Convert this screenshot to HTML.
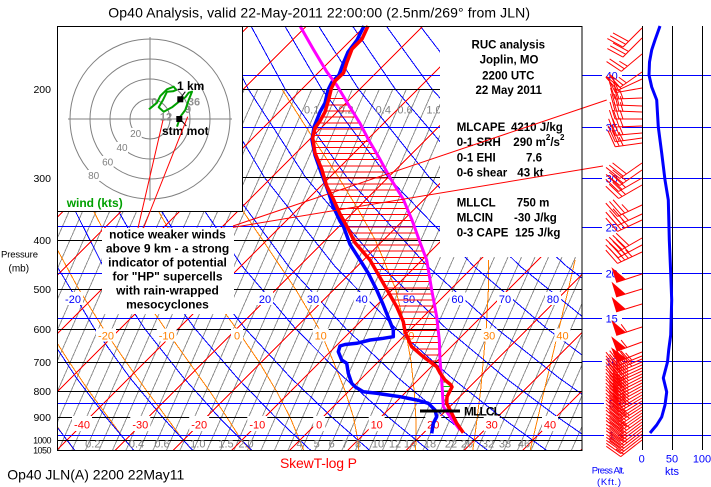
<!DOCTYPE html>
<html><head><meta charset="utf-8">
<style>
html,body{margin:0;padding:0;background:#fff;width:711px;height:487px;overflow:hidden}
svg{display:block}
text{font-family:"Liberation Sans",Arial,sans-serif}
.b{font-weight:bold}
</style></head><body>
<svg width="711" height="487" viewBox="0 0 711 487" xmlns="http://www.w3.org/2000/svg">
<defs>
 <clipPath id="pc"><rect x="57" y="26" width="525" height="424"/></clipPath>
 <g id="w15" stroke="#f00" fill="none"><path d="M0 0H-27M-27 0l-5-17M-23 0l-3-9"/></g>
 <g id="w20" stroke="#f00" fill="none"><path d="M0 0H-27M-27 0l-5-17M-23 0l-5-17"/></g>
 <g id="w25" stroke="#f00" fill="none"><path d="M0 0H-27M-27 0l-5-17M-23 0l-5-17M-19 0l-3-9"/></g>
 <g id="w30" stroke="#f00" fill="none"><path d="M0 0H-27M-27 0l-5-17M-23 0l-5-17M-19 0l-5-17"/></g>
 <g id="w35" stroke="#f00" fill="none"><path d="M0 0H-27M-27 0l-5-17M-23 0l-5-17M-19 0l-5-17M-15 0l-3-9"/></g>
 <g id="w40" stroke="#f00" fill="none"><path d="M0 0H-27M-27 0l-5-17M-23 0l-5-17M-19 0l-5-17M-15 0l-5-17"/></g>
 <g id="w45" stroke="#f00" fill="none"><path d="M0 0H-27M-27 0l-5-17M-23 0l-5-17M-19 0l-5-17M-15 0l-5-17M-11 0l-3-9"/></g>
 <g id="w50"><path d="M0 0H-27" stroke="#f00" fill="none"/><polygon points="-27,0 -17,0 -27,-16" fill="#f00"/></g>
 <g id="w55"><path d="M0 0H-27M-16 0l-3-9" stroke="#f00" fill="none"/><polygon points="-27,0 -17,0 -27,-16" fill="#f00"/></g>
</defs>
<rect width="711" height="487" fill="#fff"/>

<g clip-path="url(#pc)" shape-rendering="crispEdges">
 <path fill="none" stroke="#909090" stroke-width="1" d="M-89.9 450l158.4-360m-144.9 360l158.4-360m-144.9 360l158.4-360m-144.9 360l158.4-360m-144.9 360l158.4-360m-144.9 360l158.4-360m-144.9 360l158.4-360m-144.9 360l158.4-360m-144.9 360l158.4-360m-144.9 360l158.4-360m-144.9 360l158.4-360m-144.9 360l158.4-360m-144.9 360l158.4-360m-144.9 360l158.4-360m-144.9 360l158.4-360m-144.9 360l158.4-360m-144.9 360l158.4-360m-144.9 360l158.4-360m-144.9 360l158.4-360m-144.9 360l158.4-360m-144.9 360l158.4-360m-144.9 360l158.4-360m-144.9 360l158.4-360m-144.9 360l158.4-360m-144.9 360l158.4-360m-144.9 360l158.4-360m-144.9 360l158.4-360m-144.9 360l158.4-360m-144.9 360l158.4-360m-144.9 360l158.4-360m-144.9 360l158.4-360m-144.9 360l158.4-360m-144.9 360l158.4-360m-144.9 360l158.4-360m-144.9 360l158.4-360m-144.9 360l158.4-360m-144.9 360l158.4-360m-144.9 360l158.4-360m-144.9 360l158.4-360m-144.9 360l158.4-360m-144.9 360l158.4-360m-144.9 360l158.4-360m-144.9 360l158.4-360m-144.9 360l158.4-360m-144.9 360l158.4-360m-144.9 360l158.4-360m-144.9 360l158.4-360m-144.9 360l158.4-360m-144.9 360l158.4-360m-144.9 360l158.4-360"/>
 <g fill="none" stroke="#ff8000" stroke-width="1">
  <polyline points="530,451 532.5,440.3 538,417.3 543.9,391.7 550.9,362.5 558.9,328.9 568.4,289.1 575.1,259.8"/>
  <polyline points="472.6,451 474.3,440.3 477.2,417.3 480.5,391.7 483.1,362.5 486.2,328.9 488.4,289.1 488.7,259.8"/>
  <polyline points="415.3,451 416.1,440.3 415.8,417.3 414.2,391.7 411.2,362.5 405.3,328.9 395.6,289.1 383.6,259.8 375.5,240.5 359.3,211.4 338.8,177.7 313,138 282,89.3"/>
  <polyline points="358.9,451 357.9,440.3 353.5,417.3 345.4,391.7 333.8,362.5 319.1,328.9 295.5,289.1 262.9,240.5 243.2,211.4 222.1,177.7 199,138 174.4,89.3"/>
  <polyline points="304.1,451 299.7,440.3 290.1,417.3 276.8,391.7 259.4,362.5 236.5,328.9 207.6,289.1 175.3,240.5 139.2,177.7 100.1,89.3"/>
  <polyline points="251.2,451 241.5,440.3 226.9,417.3 210.1,391.7 189.2,362.5 165.3,328.9 138.1,289.1 108.6,240.5 76.7,177.7 44.5,89.3"/>
  <polyline points="193.3,451 183.3,440.3 166.4,417.3 147.3,391.7 126.4,362.5 103.5,328.9 78.7,289.1 52.4,240.5 25.2,177.7"/>
  <polyline points="134.5,451 125.1,440.3 108.2,417.3 89.4,391.7 69.5,362.5 48.2,328.9 25.9,289.1"/>
  <polyline points="75.1,451 66.9,440.3 50.6,417.3 33.2,391.7"/>
 </g>
 <g fill="none" stroke="#0000ff" stroke-width="1">
  <polyline points="75.3,451 49.6,417.3 22.6,377.6 -6,328.9"/>
  <polyline points="134.3,451 106.1,417.3 76.2,377.6 44.3,328.9 10.5,266.2 -24.2,177.7"/>
  <polyline points="193.3,451 162.6,417.3 129.8,377.6 94.6,328.9 56.9,266.2 17,177.7 -8.8,89.3"/>
  <polyline points="252.3,451 219,417.3 183.4,377.6 144.9,328.9 103.2,266.2 58.3,177.7 28,89.3 14.4,26.6"/>
  <polyline points="311.4,451 275.5,417.3 237,377.6 195.2,328.9 149.5,266.2 99.6,177.7 64.7,89.3 48.2,26.6"/>
  <polyline points="370.4,451 332,417.3 290.6,377.6 245.5,328.9 195.9,266.2 140.8,177.7 101.5,89.3 82.1,26.6"/>
  <polyline points="429.4,451 388.5,417.3 344.2,377.6 295.8,328.9 242.2,266.2 182.1,177.7 138.2,89.3 115.9,26.6"/>
  <polyline points="488.4,451 444.9,417.3 397.8,377.6 346.1,328.9 288.5,266.2 223.3,177.7 175,89.3 149.8,26.6"/>
  <polyline points="547.4,451 501.4,417.3 451.4,377.6 396.4,328.9 334.8,266.2 264.6,177.7 211.7,89.3 183.6,26.6"/>
  <polyline points="606.4,451 557.9,417.3 505,377.6 446.7,328.9 381.2,266.2 305.9,177.7 248.4,89.3 217.5,26.6"/>
  <polyline points="665.5,451 614.4,417.3 558.6,377.6 497,328.9 427.5,266.2 347.1,177.7 285.2,89.3 251.3,26.6"/>
  <polyline points="670.8,417.3 612.2,377.6 547.3,328.9 473.8,266.2 388.4,177.7 321.9,89.3 285.2,26.6"/>
  <polyline points="665.9,377.6 597.6,328.9 520.1,266.2 429.6,177.7 358.7,89.3 319,26.6"/>
  <polyline points="647.9,328.9 566.5,266.2 470.9,177.7 395.4,89.3 352.9,26.6"/>
  <polyline points="698.2,328.9 612.8,266.2 512.2,177.7 432.2,89.3 386.7,26.6"/>
  <polyline points="659.1,266.2 553.4,177.7 468.9,89.3 420.6,26.6"/>
  <polyline points="705.4,266.2 594.7,177.7 505.7,89.3 454.4,26.6"/>
  <polyline points="751.8,266.2 635.9,177.7 542.4,89.3 488.2,26.6"/>
  <polyline points="677.2,177.7 579.2,89.3 522.1,26.6"/>
  <polyline points="718.4,177.7 615.9,89.3 555.9,26.6"/>
 </g>
 <path fill="none" stroke="#ff0000" stroke-width="1" d="M-351.2 451l424.4-424.4m-366.2 424.4l424.4-424.4m-366.2 424.4l424.4-424.4m-366.2 424.4l424.4-424.4m-366.2 424.4l424.4-424.4m-366.2 424.4l424.4-424.4m-366.2 424.4l424.4-424.4m-366.2 424.4l424.4-424.4m-366.2 424.4l424.4-424.4m-366.2 424.4l424.4-424.4m-366.2 424.4l424.4-424.4m-366.2 424.4l424.4-424.4m-366.2 424.4l424.4-424.4m-366.2 424.4l424.4-424.4m-366.2 424.4l424.4-424.4m-366.2 424.4l424.4-424.4m-366.2 424.4l424.4-424.4"/>
 <path fill="none" stroke="#0000ff" stroke-width="1" d="M57 75.5H582M57 127.5H582M57 226.5H582M57 273.5H582M57 318.5H582M57 403.5H582M57 435.5H582"/>
 <path fill="none" stroke="#000" stroke-width="1" d="M57 89.5H582M57 177.5H582M57 240.5H582M57 289.5H582M57 329.5H582M57 362.5H582M57 391.5H582M57 417.5H582M57 440.5H582"/>
</g>

<g font-size="11">
 <g fill="#fff">
  <rect x="72" y="416" width="20" height="15"/><rect x="130.3" y="416" width="20" height="15"/><rect x="189.2" y="416" width="20" height="15"/><rect x="247.3" y="416" width="20" height="15"/><rect x="313.2" y="416" width="12" height="15"/><rect x="368.7" y="416" width="16" height="15"/><rect x="425.3" y="416" width="16" height="15"/><rect x="483.7" y="416" width="16" height="15"/><rect x="542" y="416" width="16" height="15"/>
  <rect x="63" y="292" width="20" height="13"/><rect x="257" y="292" width="16" height="13"/><rect x="305" y="292" width="16" height="13"/><rect x="353.7" y="292" width="16" height="13"/><rect x="401" y="292" width="16" height="13"/><rect x="449.5" y="292" width="16" height="13"/><rect x="497" y="292" width="16" height="13"/><rect x="545" y="292" width="16" height="13"/>
  <rect x="96" y="328.5" width="20" height="13"/><rect x="156.7" y="328.5" width="20" height="13"/><rect x="231" y="328.5" width="12" height="13"/><rect x="312.7" y="328.5" width="16" height="13"/><rect x="481.2" y="328.5" width="16" height="13"/><rect x="554.5" y="328.5" width="16" height="13"/>
 </g>
 <g fill="#f00" text-anchor="middle">
  <text x="82" y="428.5">-40</text><text x="140.3" y="428.5">-30</text><text x="199.2" y="428.5">-20</text><text x="257.3" y="428.5">-10</text><text x="319.2" y="428.5">0</text><text x="376.7" y="428.5">10</text><text x="433.3" y="428.5">20</text><text x="491.7" y="428.5">30</text><text x="550" y="428.5">40</text>
 </g>
 <g fill="#00f" text-anchor="middle">
  <text x="73" y="303">-20</text><text x="265" y="303">20</text><text x="313" y="303">30</text><text x="361.7" y="303">40</text><text x="409" y="303">50</text><text x="457.5" y="303">60</text><text x="505" y="303">70</text><text x="553" y="303">80</text>
 </g>
 <g fill="#ff8000" text-anchor="middle">
  <text x="106" y="339.5">-20</text><text x="166.7" y="339.5">-10</text><text x="237" y="339.5">0</text><text x="320.7" y="339.5">10</text><text x="408.3" y="339.5">20</text><text x="489.2" y="339.5">30</text><text x="562.5" y="339.5">40</text>
 </g>
 <g fill="#808080" text-anchor="middle">
  <text x="92.8" y="447.5">0.2</text><text x="136.5" y="447.5">0.4</text><text x="162" y="447.5">0.6</text><text x="197.8" y="447.5">1.0</text><text x="226" y="447.5">1.5</text><text x="246" y="447.5">2.0</text><text x="299.5" y="447.5">4</text><text x="316.7" y="447.5">5</text><text x="331.7" y="447.5">6</text><text x="345" y="447.5">7</text><text x="358" y="447.5">8</text><text x="378" y="447.5">10</text><text x="395" y="447.5">12</text><text x="410" y="447.5">14</text><text x="430" y="447.5">18</text><text x="451" y="447.5">22</text><text x="467" y="447.5">26</text><text x="488" y="447.5">32</text><text x="505" y="447.5">38</text><text x="524" y="447.5">46</text>
  <text x="311.7" y="113.5">0.1</text><text x="346" y="113.5">0.2</text><text x="383.3" y="113.5">0.4</text><text x="405" y="113.5">0.6</text><text x="434" y="113.5">1.0</text>
 </g>
</g>

<path fill="none" stroke="#ff0000" stroke-width="1" shape-rendering="crispEdges" d="M328.8 98.7H344.8M327.1 104.8H348.5M325.3 110.9H352.3M322.2 117H356.1M318.5 123.1H359.9M314.7 129.2H363.1M313.3 135.3H366.2M313.2 141.4H369.5M314.2 147.5H373.1M315.3 153.6H376.7M317.8 159.7H380.2M320.4 165.8H383.5M322.6 171.9H386.8M324.3 178H390.2M326.1 184.1H393.9M328.8 190.2H397.7M331.9 196.3H401.5M334.8 202.4H404.6M337.5 208.5H407.2M340.3 214.6H409.7M343.7 220.7H412.2M347.1 226.8H414.4M350.2 232.9H416.6M353.2 239H418.8M357.1 245.1H421M362.4 251.2H423.3M367.7 257.3H425.7M371.9 263.4H427.3M375.4 269.5H428.3M378.9 275.6H429.3M382.4 281.7H430.3M385.9 287.8H431.3M389.4 293.9H432.4M392.9 300H433.6M396.4 306.1H434.7M399.1 312.2H435.9M401.8 318.3H436.9M403.8 324.4H437.6M404.8 330.5H438.3M407.2 336.6H439M409.9 342.7H439.4M414.1 348.8H439.6M421.2 354.9H439.8M429.1 361H440"/>
<path fill="none" stroke="#00c000" stroke-width="1" shape-rendering="crispEdges" d="M441.8 382H447.4M442.1 386.5H451.8M442.4 391H449.9M442.6 395.5H447.6M442.9 400H446.8M443.2 404.5H447.3M444.8 409H449.5M447.9 413.5H451.8M451 418H454.1M454.4 422.5H456.3"/>
<polyline fill="none" stroke="#0000ff" stroke-width="3.5" stroke-linejoin="round" points="364,26 357,40 348,52 343,64 339,75 332,82 328,90 325,103 320,112 314,127 312,140 315,155 321,172 327,188 333.3,206.7 340,221 343.3,226 350,244.3 360,260 368.3,273.3 376.7,290 383.3,305 390,321.7 393.3,330 393.3,336.7 383.3,338.3 370,340 356.7,343.3 345,344.5 340,346 338.3,351.7 341.7,360 346.7,363.3 348.3,373.3 351.7,383.3 355,386.7 363.3,391.7 376.7,393.3 400,396.7 416.7,400 428.3,403.3 435,410 436.7,416.7 433.3,423.3 431.7,433.3"/>
<polyline fill="none" stroke="#ff00ff" stroke-width="3" stroke-linejoin="round" points="300,26 313.3,49.3 326.7,71.7 336.7,85 348,104 360,123.3 368.3,139.3 380,159.3 390,177.7 403.3,199.3 411.7,219.3 420.7,244.3 426.7,260 431.7,290 436.7,316.7 439.3,340 440,360 441.7,380 443.3,406.7 450,416.7 460,430"/>
<polyline fill="none" stroke="#ff0000" stroke-width="3.5" stroke-linejoin="round" points="368,26 362,39 352,49 347,62 343.5,73 335,81 331.5,88 328.5,100 325,112 320,121 315,128 312.7,138 315,153 321.7,169 326.7,186 333.3,199 340,214 348.3,229 355,242.7 370,260 383.3,283.3 396.7,306.7 403.3,321.7 405,331.7 411.7,346.7 423.3,356.7 436.7,366.7 440,373 445,380 451,385 452,387 447,396.7 446.7,403.3 451.7,413.3 456.7,423.3 463.3,432.7"/>
<line x1="420" y1="411" x2="460" y2="411" stroke="#000" stroke-width="3"/>

<rect x="102" y="228" width="132" height="86" fill="#fff"/>
<rect x="440" y="27" width="142" height="230" fill="#fff"/>
<rect x="57.5" y="26.5" width="185" height="185" fill="#fff" stroke="#000" stroke-width="1"/>

<g fill="none" stroke="#808080" stroke-width="1">
 <circle cx="150" cy="119" r="20"/><circle cx="150" cy="119" r="40"/><circle cx="150" cy="119" r="60"/><circle cx="150" cy="119" r="80"/>
 <line x1="68" y1="119" x2="232" y2="119"/><line x1="150" y1="37" x2="150" y2="201"/>
</g>
<g fill="#fff"><rect x="129.7" y="128" width="12" height="11"/><rect x="116" y="142" width="12" height="11"/><rect x="101.7" y="156" width="12" height="11"/><rect x="87.7" y="170" width="12" height="11"/></g>
<g fill="#808080" font-size="10" text-anchor="middle">
 <text x="135.7" y="137">20</text><text x="122" y="151">40</text><text x="107.7" y="165.5">60</text><text x="93.7" y="179">80</text>
</g>
<g fill="#909090" font-size="11" class="b" text-anchor="middle">
 <text x="154.3" y="105.5">0</text><text x="166" y="120.5">12</text><text x="188" y="113">9</text><text x="194" y="105.5">36</text>
</g>
<polyline points="149,109.3 157,102.7 160.3,96 167,89.3 173.7,86.7 176.3,90 173,91.3 167,91.7 163,100 158.7,107.3 163.7,111.7 172,107.3 181,100 185.3,97.3 188.7,92.7 192,91.7 188.7,100 185.3,110 180.3,116.7 177,126.7" fill="none" stroke="#00a000" stroke-width="2" stroke-linejoin="round"/>
<rect x="177.3" y="96.3" width="6" height="6" fill="#000"/>
<rect x="176.3" y="116" width="6" height="6" fill="#000"/>
<line x1="185.3" y1="91.7" x2="181" y2="97.3" stroke="#000"/>
<line x1="181" y1="120" x2="186.3" y2="126" stroke="#000"/>
<text x="177" y="90" class="b" font-size="12">1 km</text>
<text x="162" y="135" class="b" font-size="12">stm mot</text>
<text x="66.7" y="207" class="b" font-size="12" fill="#00a000">wind (kts)</text>

<g class="b" font-size="12" text-anchor="middle" fill="#000">
 <text x="167.5" y="238.5">notice weaker winds</text>
 <text x="167.5" y="252.5">above 9 km - a strong</text>
 <text x="167.5" y="266.5">indicator of potential</text>
 <text x="167.5" y="280.5">for "HP" supercells</text>
 <text x="167.5" y="294.5">with rain-wrapped</text>
 <text x="167.5" y="308.5">mesocyclones</text>
</g>

<g class="b" font-size="11.5" fill="#000">
 <text x="508.3" y="48.7" text-anchor="middle">RUC analysis</text>
 <text x="509" y="63.7" text-anchor="middle">Joplin, MO</text>
 <text x="508.3" y="79.3" text-anchor="middle">2200 UTC</text>
 <text x="508.7" y="94" text-anchor="middle">22 May 2011</text>
 <text x="456.7" y="131">MLCAPE</text><text x="511" y="131">4210 J/kg</text>
 <text x="456.7" y="146">0-1 SRH</text><text x="513.3" y="146">290 m<tspan font-size="8" dy="-6">2</tspan><tspan dy="6">/s</tspan><tspan font-size="8" dy="-6">2</tspan></text>
 <text x="456.7" y="161.5">0-1 EHI</text><text x="526" y="161.5">7.6</text>
 <text x="456.7" y="176.5">0-6 shear</text><text x="517.3" y="176.5">43 kt</text>
 <text x="456.7" y="206.5">MLLCL</text><text x="516.7" y="206.5">750 m</text>
 <text x="456.7" y="221.5">MLCIN</text><text x="514" y="221.5">-30 J/kg</text>
 <text x="456.7" y="236.5">0-3 CAPE</text><text x="515" y="236.5">125 J/kg</text>
</g>

<g stroke="#f00" stroke-width="1">
 <line x1="163" y1="120" x2="138" y2="228"/>
 <line x1="187.7" y1="116.7" x2="143.5" y2="228"/>
 <line x1="233" y1="226" x2="606.7" y2="100"/>
 <line x1="233" y1="227.4" x2="603" y2="166"/>
</g>

<path stroke="#00f" stroke-width="1" fill="none" shape-rendering="crispEdges" d="M582 75.5H711M582 127.5H711M582 178.5H711M582 227.5H711M582 273.5H711M582 318.5H711M582 361.5H711M582 403.5H711M582 435.5H711"/>
<path stroke="#000" stroke-width="1" fill="none" shape-rendering="crispEdges" d="M642.5 26V450M672.5 26V450M702.5 26V450"/>
<g fill="#fff">
 <rect x="602" y="69.5" width="20" height="12"/><rect x="602" y="121.5" width="20" height="12"/><rect x="602" y="172.5" width="20" height="12"/><rect x="602" y="221.5" width="20" height="12"/><rect x="602" y="267.5" width="20" height="12"/><rect x="602" y="312.5" width="20" height="12"/><rect x="602" y="355.5" width="20" height="12"/><rect x="604" y="397.5" width="14" height="12"/><rect x="604" y="429.5" width="14" height="12"/>
</g>
<g fill="#00f" font-size="11" text-anchor="middle">
 <text x="611.7" y="79.5">40</text><text x="611.7" y="131.5">35</text><text x="611.7" y="182.5">30</text><text x="611.7" y="231.5">25</text><text x="611.7" y="277.5">20</text><text x="611.7" y="322.5">15</text><text x="611.7" y="365.5">10</text><text x="611.7" y="407.5">5</text><text x="611.7" y="439.5">1</text>
</g>

<g>
 <use href="#w30" transform="translate(642,28) rotate(-45)"/>
 <use href="#w30" transform="translate(642,38) rotate(-45)"/>
 <use href="#w25" transform="translate(642,54) rotate(-40)"/>
 <use href="#w25" transform="translate(642,72) rotate(-35)"/>
 <use href="#w20" transform="translate(642,79) rotate(-25)"/>
 <use href="#w20" transform="translate(642,88) rotate(-10)"/>
 <use href="#w25" transform="translate(642,98) rotate(-2)"/>
 <use href="#w25" transform="translate(642,106) rotate(2)"/>
 <use href="#w25" transform="translate(642,112) rotate(2)"/>
 <use href="#w25" transform="translate(642,119) rotate(0)"/>
 <use href="#w25" transform="translate(642,126) rotate(-2)"/>
 <use href="#w25" transform="translate(642,133) rotate(-5)"/>
 <use href="#w25" transform="translate(642,138) rotate(-8)"/>
 <use href="#w25" transform="translate(642,143) rotate(-8)"/>
 <use href="#w30" transform="translate(642,163) rotate(-35)"/>
 <use href="#w30" transform="translate(642,170) rotate(-35)"/>
 <use href="#w30" transform="translate(642,178) rotate(-30)"/>
 <use href="#w30" transform="translate(642,185) rotate(-30)"/>
 <use href="#w35" transform="translate(642,205) rotate(-25)"/>
 <use href="#w35" transform="translate(642,214) rotate(-25)"/>
 <use href="#w35" transform="translate(642,220) rotate(-25)"/>
 <use href="#w40" transform="translate(642,238) rotate(-30)"/>
 <use href="#w40" transform="translate(642,245) rotate(-28)"/>
 <use href="#w45" transform="translate(642,252) rotate(-25)"/>
 <use href="#w50" transform="translate(642,274) rotate(-18)"/>
 <use href="#w50" transform="translate(642,289) rotate(-17)"/>
 <use href="#w50" transform="translate(642,304) rotate(-17)"/>
 <use href="#w55" transform="translate(642,327) rotate(-18)"/>
 <use href="#w55" transform="translate(642,342) rotate(-20)"/>
 <use href="#w55" transform="translate(642,352) rotate(-22)"/>
 <use href="#w45" transform="translate(642,356) rotate(-22)"/>
 <use href="#w45" transform="translate(642,359) rotate(-23)"/>
 <use href="#w45" transform="translate(642,362) rotate(-23)"/>
 <use href="#w40" transform="translate(642,365) rotate(-24)"/>
 <use href="#w40" transform="translate(642,368) rotate(-25)"/>
 <use href="#w40" transform="translate(642,371) rotate(-25)"/>
 <use href="#w40" transform="translate(642,374) rotate(-26)"/>
 <use href="#w35" transform="translate(642,377) rotate(-27)"/>
 <use href="#w40" transform="translate(642,380) rotate(-27)"/>
 <use href="#w40" transform="translate(642,383) rotate(-28)"/>
 <use href="#w40" transform="translate(642,386) rotate(-29)"/>
 <use href="#w35" transform="translate(642,389) rotate(-29)"/>
 <use href="#w35" transform="translate(642,392) rotate(-30)"/>
 <use href="#w35" transform="translate(642,395) rotate(-31)"/>
 <use href="#w35" transform="translate(642,398) rotate(-31)"/>
 <use href="#w30" transform="translate(642,401) rotate(-32)"/>
 <use href="#w30" transform="translate(642,404) rotate(-33)"/>
 <use href="#w35" transform="translate(642,407) rotate(-33)"/>
 <use href="#w35" transform="translate(642,410) rotate(-34)"/>
 <use href="#w30" transform="translate(642,413) rotate(-35)"/>
 <use href="#w30" transform="translate(642,416) rotate(-35)"/>
 <use href="#w35" transform="translate(642,419) rotate(-36)"/>
 <use href="#w30" transform="translate(642,422) rotate(-37)"/>
 <use href="#w30" transform="translate(642,425) rotate(-37)"/>
 <use href="#w25" transform="translate(642,428) rotate(-38)"/>
 <use href="#w25" transform="translate(642,431) rotate(-38)"/>
 <use href="#w20" transform="translate(642,434) rotate(-38)"/>
 <use href="#w20" transform="translate(642,437) rotate(-38)"/>
 <use href="#w15" transform="translate(642,440) rotate(-38)"/>
</g>
<polyline points="660,26 655,40 651.7,50 649.5,62 649,75 651.7,87 656.7,100 658.3,127 661.7,153 665,180 668.3,200 669.3,240 670.7,273 671.7,300 670.7,335 668.7,350 667.5,362 663.3,378 666.7,392 665,405 661.7,417 656.7,425 650,433" fill="none" stroke="#00f" stroke-width="3" stroke-linejoin="round"/>

<rect x="57.5" y="26.5" width="524.5" height="424" fill="none" stroke="#000" stroke-width="1" shape-rendering="crispEdges"/>

<g font-size="10.5" text-anchor="end" fill="#000">
 <text x="51" y="92.9">200</text><text x="51" y="181.9">300</text><text x="51" y="243.9">400</text><text x="51" y="292.9">500</text><text x="51" y="332.9">600</text><text x="51" y="365.9">700</text><text x="51" y="394.9">800</text><text x="51" y="420.9">900</text>
 <text x="51.5" y="443.5" font-size="9" textLength="18.4">1000</text><text x="51.5" y="453.5" font-size="9" textLength="18.4">1050</text>
</g>
<text x="1" y="257.5" font-size="9.5" textLength="37">Pressure</text>
<text x="8.5" y="271.5" font-size="10">(mb)</text>

<text x="108.3" y="17.5" font-size="14" textLength="421.7">Op40 Analysis, valid 22-May-2011 22:00:00 (2.5nm/269° from JLN)</text>
<text x="7.3" y="479.5" font-size="14" textLength="177">Op40 JLN(A) 2200 22May11</text>
<text x="280" y="468" font-size="14" fill="#f00" textLength="77">SkewT-log P</text>

<g fill="#00f" font-size="11" text-anchor="middle">
 <text x="641.7" y="462.7">0</text><text x="672" y="462.7">50</text><text x="702" y="462.7">100</text>
 <text x="672" y="475">kts</text>
 <text x="608.3" y="473.5" font-size="9.5" textLength="33">Press Alt.</text>
 <text x="609" y="485" font-size="9.5" textLength="24">(Kft.)</text>
</g>
<text x="464" y="415.5" class="b" font-size="12" textLength="37">MLLCL</text>
</svg>
</body></html>
